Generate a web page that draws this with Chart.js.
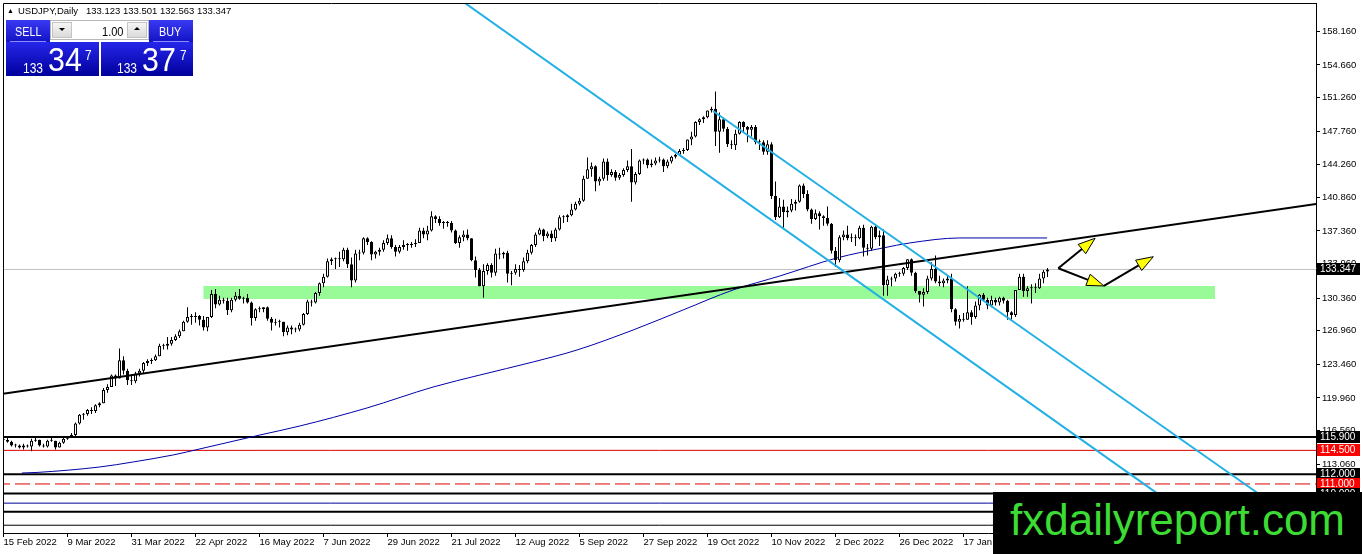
<!DOCTYPE html>
<html>
<head>
<meta charset="utf-8">
<script src="https://cdn.jsdelivr.net/npm/chart.js@4.4.1/dist/chart.umd.min.js"></script>
<style>
body { margin: 0; background: #fff; overflow: hidden; font-family: "Liberation Sans", Arial, sans-serif; }
#wrap { position: relative; width: 1362px; height: 554px; }
canvas { position: absolute; left: 0; top: 0; }
.box { position: absolute; box-sizing: border-box; }
.t { position: absolute; white-space: nowrap; line-height: 1; transform-origin: 0 0; }
.w { color: #fff; }
.blueTop { background: linear-gradient(#3a3af4, #1212c4); }
.blueBig { background: linear-gradient(#2626ea, #00009c); }
.spinBtn { background: linear-gradient(#f6f6f6, #dadada); border: 1px solid #c4c4c4; }
</style>
</head>
<body>
<div id="wrap">
  <canvas id="chart" width="1362" height="554"></canvas>

  <span class="t" style="left:7px;top:7px;font-size:7px">&#9650;</span>
  <span class="t" style="left:18px;top:6px;font-size:9.5px">USDJPY,Daily</span>
  <span class="t" id="ohlc" style="left:86px;top:6px;font-size:9.5px"></span>

  <div class="box blueTop" style="left:6px;top:20px;width:44px;height:22px"></div>
  <div class="box blueBig" style="left:6px;top:42px;width:93px;height:34px"></div>
  <div class="box blueTop" style="left:149px;top:20px;width:44px;height:22px"></div>
  <div class="box blueBig" style="left:101px;top:42px;width:92px;height:34px"></div>
  <div class="box" style="left:10px;top:41px;width:36px;height:1px;background:#8c8cff"></div>
  <div class="box" style="left:153px;top:41px;width:36px;height:1px;background:#8c8cff"></div>

  <div class="box" style="left:50px;top:20px;width:99px;height:20px;background:#fff;border:1px solid #b8b8b8"></div>
  <div class="box spinBtn" style="left:52px;top:22px;width:20px;height:16px"></div>
  <div class="box spinBtn" style="left:127px;top:22px;width:20px;height:16px"></div>
  <div class="box" style="left:59px;top:28px;width:0;height:0;border-left:3px solid transparent;border-right:3px solid transparent;border-top:3px solid #000"></div>
  <div class="box" style="left:134px;top:27px;width:0;height:0;border-left:3px solid transparent;border-right:3px solid transparent;border-bottom:3px solid #000"></div>

  <span class="t w" style="left:15px;top:25px;font-size:13.5px;transform:scaleX(.8)">SELL</span>
  <span class="t w" style="left:159px;top:25px;font-size:13.5px;transform:scaleX(.8)">BUY</span>
  <span class="t" id="lot" style="left:102px;top:25px;font-size:13px;transform:scaleX(.85)"></span>

  <span class="t w" id="sellA" style="left:23px;top:60px;font-size:15px;transform:scaleX(.8)"></span>
  <span class="t w" id="sellB" style="left:48px;top:43px;font-size:33px;transform:scaleX(.92)"></span>
  <span class="t w" id="sellC" style="left:85px;top:48px;font-size:14px;transform:scaleX(.85)"></span>
  <span class="t w" id="buyA" style="left:117px;top:60px;font-size:15px;transform:scaleX(.8)"></span>
  <span class="t w" id="buyB" style="left:142px;top:43px;font-size:33px;transform:scaleX(.92)"></span>
  <span class="t w" id="buyC" style="left:180px;top:48px;font-size:14px;transform:scaleX(.85)"></span>

  <div class="box" style="left:993px;top:492px;width:369px;height:62px;background:#000"></div>
  <span class="t" style="left:1010px;top:498px;font-size:44px;color:#3ddc34">fxdailyreport.com</span>
</div>

<script>
// USDJPY daily candles, 15 Feb 2022 .. 15 Feb 2023 (bar index 0..261)
const opens = [
  115.7,115.6,115.4,115.0,115.0,114.8,115.0,114.9,115.5,115.6,
  115.0,114.9,115.5,115.5,114.8,115.3,115.7,115.9,116.1,117.3,
  118.2,118.3,118.7,118.6,119.2,119.4,120.8,121.1,122.3,122.0,
  123.9,122.8,121.8,121.7,122.5,122.8,123.6,123.8,123.9,124.3,
  125.4,125.4,125.6,126.0,126.4,126.9,127.9,128.4,128.4,128.5,
  128.1,127.3,128.4,130.8,129.7,130.2,130.1,129.1,130.2,130.6,
  130.3,130.4,129.9,128.3,129.2,129.2,129.4,128.2,127.8,127.9,
  127.9,126.8,127.3,127.1,127.1,127.6,128.7,130.0,129.9,130.9,
  131.9,132.6,134.2,134.4,134.4,134.4,135.4,133.9,132.2,135.0,
  135.1,136.6,136.2,134.9,135.2,135.4,136.1,136.6,135.7,135.2,
  135.7,135.9,135.9,136.0,136.1,137.4,137.0,137.4,138.9,138.6,
  138.2,138.2,138.2,137.4,136.1,136.7,137.0,136.6,134.3,133.3,
  131.6,133.2,133.8,133.0,135.0,134.9,135.1,132.9,133.0,133.4,
  133.3,134.2,135.1,135.9,137.0,137.5,136.8,137.1,136.6,137.5,
  138.8,138.8,139.0,139.6,140.2,140.5,142.8,143.8,144.1,142.5,
  142.8,144.6,143.2,143.5,142.9,143.2,143.7,144.1,142.4,143.3,
  144.7,144.8,144.2,144.4,144.7,144.8,144.1,144.6,145.1,145.3,
  145.7,145.8,146.9,147.2,148.7,149.0,149.2,149.9,150.1,147.7,
  149.0,148.0,146.4,146.3,147.5,148.7,148.2,147.9,148.2,146.6,
  146.6,145.6,146.4,141.0,138.8,139.9,139.3,139.5,140.2,140.4,
  142.1,141.2,139.6,138.6,139.2,138.9,138.7,138.1,135.3,134.3,
  136.7,137.0,136.6,136.6,136.6,137.7,135.6,135.5,137.8,136.7,
  136.9,131.7,132.3,132.4,132.9,132.9,133.5,134.4,133.0,131.1,
  130.7,131.0,132.4,133.4,132.1,131.9,132.2,132.4,129.2,127.9,
  128.2,128.1,128.9,128.4,129.6,130.7,130.2,129.6,130.2,129.9,
  130.4,130.1,128.9,128.6,131.2,132.6,131.1,131.4,131.4,131.4,132.4,133.123
];
const highs = [
  115.8,115.8,115.5,115.2,115.1,115.2,115.1,115.7,115.8,115.6,
  115.2,115.6,115.8,115.5,115.4,115.8,116.0,116.3,117.4,118.3,
  118.4,118.8,119.0,119.3,119.5,121.0,121.4,122.4,122.4,125.1,
  124.3,123.0,122.4,122.7,123.0,123.7,124.0,124.1,124.5,125.6,
  125.6,126.3,126.3,126.6,127.1,128.0,129.4,128.7,128.9,128.6,
  128.5,128.4,131.2,131.3,130.6,130.4,130.4,130.4,131.0,131.3,
  130.5,130.8,130.0,129.3,129.5,129.4,129.5,128.4,128.2,128.1,
  127.9,127.5,127.5,127.3,127.8,128.8,130.2,130.2,131.0,132.0,
  132.9,134.5,134.6,134.6,135.2,135.6,135.6,134.6,135.4,135.4,
  136.7,136.7,136.3,135.3,135.6,136.4,137.0,136.9,135.9,135.9,
  136.4,136.1,136.2,136.5,137.7,137.7,137.9,139.4,139.0,138.9,
  138.4,138.4,138.4,137.5,136.9,137.4,137.5,136.6,134.7,133.5,
  133.9,134.0,134.0,135.5,135.6,135.2,135.3,133.2,133.9,133.8,
  134.6,135.4,136.0,137.2,137.7,137.6,137.3,137.4,137.7,139.0,
  139.0,139.1,140.2,140.4,140.8,143.1,145.0,144.5,144.2,143.0,
  144.9,144.9,143.8,143.7,143.4,143.9,144.7,145.9,143.5,144.8,
  144.9,144.9,144.8,145.0,145.1,144.9,144.8,145.2,145.4,145.9,
  146.0,146.9,147.7,148.8,149.1,149.3,149.9,150.3,151.9,149.7,
  149.0,148.2,146.8,147.9,148.8,148.8,148.3,148.4,148.4,146.9,
  146.8,146.8,146.6,142.5,140.8,140.6,139.9,140.7,140.6,142.2,
  142.3,141.6,139.7,139.6,139.4,139.0,139.9,138.2,135.7,136.9,
  137.4,137.9,137.1,137.0,137.9,138.0,136.0,137.9,137.9,137.4,
  137.5,132.7,132.6,133.0,133.1,133.6,134.4,134.5,133.1,131.1,
  131.4,132.7,134.1,134.8,132.7,132.4,132.8,132.9,129.3,128.6,
  128.8,131.6,129.1,130.0,130.8,130.9,130.4,130.6,130.4,130.5,
  130.5,130.2,129.0,131.2,132.9,132.9,131.6,131.8,131.9,132.9,133.3,133.501
];
const lows = [
  115.4,115.3,114.9,114.8,114.7,114.6,114.8,114.4,115.4,114.9,
  114.8,114.8,115.4,114.6,114.8,115.2,115.6,115.8,116.0,117.2,
  117.7,118.1,118.3,118.4,119.0,119.4,120.5,121.1,121.2,122.0,
  122.4,121.3,121.3,121.5,122.2,122.5,123.3,123.5,123.8,124.3,
  125.0,125.0,125.4,125.9,126.2,126.9,127.8,127.6,127.8,127.5,
  127.0,126.9,128.3,129.3,129.6,129.8,128.6,128.9,130.0,130.2,
  129.8,129.8,127.5,128.0,128.9,128.9,128.0,127.0,127.5,127.3,
  126.4,126.5,126.6,126.8,126.9,127.5,128.6,129.5,129.8,130.6,
  131.5,132.5,133.8,133.4,133.6,134.2,133.5,131.5,132.0,134.3,
  134.9,135.9,134.3,134.5,134.8,135.2,135.9,135.5,134.7,135.0,
  135.4,135.3,135.6,135.7,136.1,136.6,136.4,137.3,138.2,137.9,
  137.6,137.8,137.2,136.0,135.6,136.3,136.4,134.2,132.5,131.6,
  130.4,132.8,132.5,132.7,134.4,134.5,132.0,131.7,132.8,132.6,
  133.1,134.0,134.9,135.7,136.9,136.3,136.6,136.2,136.3,137.4,
  138.2,138.3,138.9,139.5,140.0,140.4,142.8,143.0,141.5,142.1,
  142.6,142.6,143.0,142.6,142.7,143.0,143.5,140.4,142.2,143.2,
  144.3,143.9,144.0,144.2,144.5,143.5,143.9,144.4,144.9,145.2,
  145.4,145.7,146.3,147.1,148.4,148.6,149.1,149.7,146.2,145.5,
  147.7,146.1,145.9,145.8,147.4,147.6,146.6,147.2,146.4,145.8,
  145.3,145.3,140.7,138.5,138.7,137.7,138.8,139.3,139.5,140.3,
  140.8,139.4,138.1,138.5,137.5,137.9,137.9,135.0,133.6,134.1,
  136.4,136.4,136.2,135.8,136.5,134.7,134.8,135.3,136.5,135.8,
  130.6,130.6,131.6,132.1,132.6,132.7,133.3,132.7,130.9,129.9,
  129.5,130.8,132.2,131.9,131.6,131.5,131.9,128.9,127.5,127.2,
  127.9,128.1,127.6,128.2,129.1,130.0,129.2,129.4,129.6,129.6,
  129.8,128.1,128.1,128.4,131.2,130.5,130.5,129.8,130.9,131.3,131.9,132.563
];
const closes = [
  115.6,115.4,115.0,115.0,114.8,115.0,114.9,115.5,115.6,115.0,
  114.9,115.5,115.5,114.8,115.3,115.7,115.9,116.1,117.3,118.2,
  118.3,118.7,118.6,119.2,119.4,120.8,121.1,122.3,122.0,123.9,
  122.8,121.8,121.7,122.5,122.8,123.6,123.8,123.9,124.3,125.4,
  125.4,125.6,126.0,126.4,126.9,127.9,128.4,128.4,128.5,128.1,
  127.3,128.4,130.8,129.7,130.2,130.1,129.1,130.2,130.6,130.3,
  130.4,129.9,128.3,129.2,129.2,129.4,128.2,127.8,127.9,127.9,
  126.8,127.3,127.1,127.1,127.6,128.7,130.0,129.9,130.9,131.9,
  132.6,134.2,134.4,134.4,134.4,135.4,133.9,132.2,135.0,135.1,
  136.6,136.2,134.9,135.2,135.4,136.1,136.6,135.7,135.2,135.7,
  135.9,135.9,136.0,136.1,137.4,137.0,137.4,138.9,138.6,138.2,
  138.2,138.2,137.4,136.1,136.7,137.0,136.6,134.3,133.3,131.6,
  133.2,133.8,133.0,135.0,134.9,135.1,132.9,133.0,133.4,133.3,
  134.2,135.1,135.9,137.0,137.5,136.8,137.1,136.6,137.5,138.8,
  138.8,139.0,139.6,140.2,140.5,142.8,143.8,144.1,142.5,142.8,
  144.6,143.2,143.5,142.9,143.2,143.7,144.1,142.4,143.3,144.7,
  144.8,144.2,144.4,144.7,144.8,144.1,144.6,145.1,145.3,145.7,
  145.8,146.9,147.2,148.7,149.0,149.2,149.9,150.1,147.7,149.0,
  148.0,146.4,146.3,147.5,148.7,148.2,147.9,148.2,146.6,146.6,
  145.6,146.4,141.0,138.8,139.9,139.3,139.5,140.2,140.4,142.1,
  141.2,139.6,138.6,139.2,138.9,138.7,138.1,135.3,134.3,136.7,
  137.0,136.6,136.6,136.6,137.7,135.6,135.5,137.8,136.7,136.9,
  131.7,132.3,132.4,132.9,132.9,133.5,134.4,133.0,131.1,130.7,
  131.0,132.4,133.4,132.1,131.9,132.2,132.4,129.2,127.9,128.2,
  128.1,128.9,128.4,129.6,130.7,130.2,129.6,130.2,129.9,130.4,
  130.1,128.9,128.6,131.2,132.6,131.1,131.4,131.4,131.4,132.4,133.1,133.347
];

// time axis labels, one every 16 bars
const xTickLabels = ['15 Feb 2022','9 Mar 2022','31 Mar 2022','22 Apr 2022','16 May 2022','7 Jun 2022',
  '29 Jun 2022','21 Jul 2022','12 Aug 2022','5 Sep 2022','27 Sep 2022','19 Oct 2022','10 Nov 2022',
  '2 Dec 2022','26 Dec 2022','17 Jan 2023'];
const yTickValues = [158.16,154.66,151.26,147.76,144.26,140.86,137.36,133.96,130.36,126.96,
  123.46,119.96,116.56,113.06,109.66];

// moving average (bar index, price)
const maIdx  = [4.6,8.4,24.1,32.4,42.4,49.1,64.1,74.1,90.9,107.4,119.1,132.4,143.4,157.4,169.9,182.4,194.1,208.4,219.9,226.6,239.1,260.9];
const maVals = [112.14,112.2,112.77,113.29,114.02,114.65,116.1,117.04,118.92,121.1,122.35,123.71,124.96,127.04,129.13,131.21,132.67,134.55,135.59,136.11,136.63,136.63];

// drawn objects (bar index, price)
const trendLine = [[-1, 120.34], [330, 140.29]];
const channelA  = [[112, 162.1], [300, 106.6]];
const channelB  = [[177.4, 149.86], [325, 106.7]];
const zoneX = [49.95, 302.9];
const zoneY = [130.27, 131.62];
const arrows = [
  [[263.7, 133.47], [272.9, 136.6]],
  [[263.7, 133.47], [275.1, 131.63]],
  [[275.1, 131.63], [287.45, 134.68]]
];
const levels = [115.9, 114.5, 112.0, 111.0, 110.0, 109.0, 108.1, 106.7];
const levelColor = ['#000', '#dc0000', '#000', '#dc0000', '#000', '#00009c', '#000', '#000'];
const levelWidth = [2, 1, 2, 1, 2, 1, 2, 1];
const levelDash  = [[], [], [], [15, 5], [], [], [], []];
const priceTags = [115.9, 114.5, 112.0, 111.0, 110.0];
const tagFill   = ['#000', '#ff0000', '#000', '#ff0000', '#000'];
const spread = 0.030;
const lotSize = 1.00;

const last = closes.length - 1;
const bid = closes[last];
const ask = bid + spread;

// header and trade panel texts
document.getElementById('ohlc').textContent =
  [opens[last], highs[last], lows[last], closes[last]].map(v => v.toFixed(3)).join(' ');
document.getElementById('lot').textContent = lotSize.toFixed(2);
function splitQuote(v, p) {
  const s = v.toFixed(3);
  document.getElementById(p + 'A').textContent = s.slice(0, 3);
  document.getElementById(p + 'B').textContent = s.slice(4, 6);
  document.getElementById(p + 'C').textContent = s.slice(6);
}
splitQuote(bid, 'sell');
splitQuote(ask, 'buy');

const xMin = -0.125, xMax = 328.125;
const yMin = 105.89, yMax = 161.11;

const pts = arr => arr.map(p => ({x: p[0], y: p[1]}));
const hline = v => [{x: xMin - 2, y: v}, {x: xMax + 2, y: v}];
const lineBase = {type: 'line', pointRadius: 0, pointHoverRadius: 0, tension: 0, fill: false};

const datasets = [];
datasets.push(Object.assign({}, lineBase, {
  data: [{x: zoneX[0], y: zoneY[1]}, {x: zoneX[1], y: zoneY[1]}],
  borderWidth: 0, fill: {value: zoneY[0]}, backgroundColor: 'rgb(152,251,152)', order: 30
}));
levels.forEach((v, k) => datasets.push(Object.assign({}, lineBase, {
  data: hline(v), borderColor: levelColor[k], borderWidth: levelWidth[k], borderDash: levelDash[k], order: 25
})));
datasets.push(Object.assign({}, lineBase, {
  data: hline(bid), borderColor: '#c0c0c0', borderWidth: 1, order: 26
}));
datasets.push(Object.assign({}, lineBase, {
  data: maIdx.map((v, k) => ({x: v, y: maVals[k]})),
  borderColor: '#0000a8', borderWidth: 1, cubicInterpolationMode: 'monotone', order: 24
}));
datasets.push({
  type: 'bar', data: lows.map((l, i) => ({x: i, y: [l, highs[i]]})),
  backgroundColor: '#000', borderWidth: 0, grouped: false, categoryPercentage: 1, barPercentage: 1,
  maxBarThickness: 1, inflateAmount: 0, order: 21
});
datasets.push({
  type: 'bar', data: opens.map((o, i) => ({x: i, y: [o, closes[i]]})),
  backgroundColor: opens.map((o, i) => closes[i] >= o ? '#fff' : '#000'),
  borderColor: '#000', borderWidth: 1, borderSkipped: false, minBarLength: 1,
  grouped: false, categoryPercentage: 1, barPercentage: 1, maxBarThickness: 3, inflateAmount: 0, order: 20
});
datasets.push(Object.assign({}, lineBase, {data: pts(trendLine), borderColor: '#000', borderWidth: 2, order: 5}));
datasets.push(Object.assign({}, lineBase, {data: pts(channelA), borderColor: 'rgb(34,176,230)', borderWidth: 2, order: 4}));
datasets.push(Object.assign({}, lineBase, {data: pts(channelB), borderColor: 'rgb(34,176,230)', borderWidth: 2, order: 4}));

// arrows, chart frame and axis price tags
const overlay = {
  id: 'overlay',
  afterDatasetsDraw(chart) {
    const {ctx, chartArea: a, scales: {x, y}} = chart;
    ctx.save();
    ctx.beginPath();
    ctx.rect(a.left, a.top, a.right - a.left, a.bottom - a.top);
    ctx.clip();
    arrows.forEach(ar => {
      const x1 = x.getPixelForValue(ar[0][0]), y1 = y.getPixelForValue(ar[0][1]);
      const x2 = x.getPixelForValue(ar[1][0]), y2 = y.getPixelForValue(ar[1][1]);
      const ang = Math.atan2(y2 - y1, x2 - x1);
      const c = Math.cos(ang), s = Math.sin(ang);
      const bx = x2 - 17 * c, by = y2 - 17 * s;
      ctx.strokeStyle = '#000';
      ctx.lineWidth = 2;
      ctx.beginPath();
      ctx.moveTo(x1, y1);
      ctx.lineTo(bx, by);
      ctx.stroke();
      ctx.beginPath();
      ctx.moveTo(x2, y2);
      ctx.lineTo(bx + 6 * s, by - 6 * c);
      ctx.lineTo(bx - 6 * s, by + 6 * c);
      ctx.closePath();
      ctx.fillStyle = '#ffff00';
      ctx.fill();
      ctx.lineWidth = 1;
      ctx.stroke();
    });
    ctx.restore();
    ctx.save();
    ctx.strokeStyle = '#000';
    ctx.lineWidth = 1;
    ctx.beginPath();
    ctx.moveTo(a.left + 0.5, a.bottom);
    ctx.lineTo(a.left + 0.5, a.top + 0.5);
    ctx.lineTo(a.right, a.top + 0.5);
    ctx.stroke();
    ctx.restore();
  },
  afterDraw(chart) {
    const {ctx, scales: {y}} = chart;
    ctx.save();
    ctx.font = '10px "Liberation Sans", Arial, sans-serif';
    ctx.textBaseline = 'middle';
    const tag = (v, bg) => {
      const py = Math.round(y.getPixelForValue(v));
      ctx.fillStyle = bg;
      ctx.fillRect(1317, py - 6, 43, 12);
      ctx.fillStyle = '#fff';
      ctx.fillText(v.toFixed(3), 1320, py + 0.5);
    };
    priceTags.forEach((v, k) => tag(v, tagFill[k]));
    tag(bid, '#000');
    ctx.restore();
  }
};

Chart.defaults.font.family = '"Liberation Sans", Arial, sans-serif';
Chart.defaults.font.size = 9.5;
Chart.defaults.color = '#000';

new Chart(document.getElementById('chart'), {
  type: 'bar',
  data: {datasets: datasets},
  options: {
    responsive: false,
    devicePixelRatio: 1,
    animation: false,
    events: [],
    layout: {padding: {left: 3, top: 3, right: 0, bottom: 0}},
    plugins: {legend: {display: false}, tooltip: {enabled: false}},
    scales: {
      x: {
        type: 'linear', min: xMin, max: xMax, offset: false,
        grid: {drawOnChartArea: false, drawTicks: true, tickLength: 4, color: '#000', offset: false},
        border: {display: true, color: '#000', width: 1},
        ticks: {autoSkip: false, maxRotation: 0, align: 'start', padding: 0,
                callback: (v, i) => xTickLabels[i]},
        afterBuildTicks: s => { s.ticks = xTickLabels.map((t, i) => ({value: i * 16})); },
        afterFit: s => { s.height = 21; s.paddingLeft = 0; s.paddingRight = 0; }
      },
      y: {
        type: 'linear', position: 'right', min: yMin, max: yMax,
        grid: {drawOnChartArea: false, drawTicks: true, tickLength: 4, color: '#000'},
        border: {display: true, color: '#000', width: 1},
        ticks: {autoSkip: false, padding: 2, callback: v => v.toFixed(3)},
        afterBuildTicks: s => { s.ticks = yTickValues.map(v => ({value: v})); },
        afterFit: s => { s.width = 46; s.paddingTop = 0; s.paddingBottom = 0; }
      }
    }
  },
  plugins: [overlay]
});
</script>
</body>
</html>
